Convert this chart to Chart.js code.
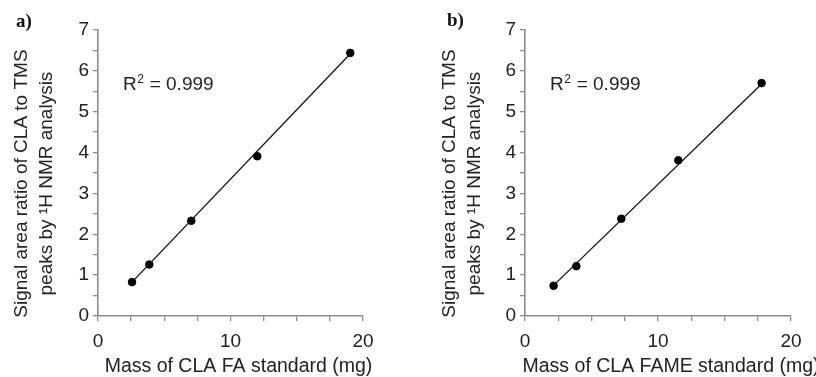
<!DOCTYPE html>
<html>
<head>
<meta charset="utf-8">
<script src="https://cdn.jsdelivr.net/npm/chart.js@4.4.1/dist/chart.umd.min.js"></script>
<style>
	body{margin:0;background:#fff;}
	.panel{position:absolute;top:0;width:408px;height:377px;}
	.tag{position:absolute;font-family:"Liberation Serif","Times New Roman",serif;font-weight:bold;font-size:19px;color:#111;}
</style>
</head>
<body>
	<div class="panel" style="left:0px;">
		<canvas id="chartA" width="408" height="377"></canvas>
	</div>
	<div class="panel" style="left:408px;">
		<canvas id="chartB" width="408" height="377"></canvas>
	</div>
	<span class="tag" style="left:16px;top:10px;">a)</span>
	<span class="tag" style="left:447px;top:9px;">b)</span>
<script>
	// panel a: CLA FA standard
	var massFA = [2.57, 3.87, 7.04, 12.02, 19.04];
	var ratioFA = [0.83, 1.26, 2.33, 3.91, 6.44];
	var fitFAx = [2.57, 19.04];
	var fitFAy = [0.83, 6.42];
	// panel b: CLA FAME standard
	var massFAME = [2.15, 3.86, 7.24, 11.53, 17.79];
	var ratioFAME = [0.74, 1.22, 2.38, 3.81, 5.70];
	var fitFAMEx = [2.15, 17.79];
	var fitFAMEy = [0.75, 5.68];
	var r2Text = ["0.999", "0.999"];
	// trailing spaces push the rotated title a little down, as in the figure
	var yTitle = ["Signal area ratio of CLA to TMS    ", "peaks by \u00b9H NMR analysis    "];
	var xTitles = ["Mass of CLA FA standard (mg)", "Mass of CLA FAME standard (mg)"];

	Chart.defaults.font.family = "'Liberation Sans', Arial, sans-serif";
	Chart.defaults.color = "#222";

	function toPoints(xs, ys){
		var pts = [];
		for(var i = 0;i<xs.length;i++){
			pts.push({x:xs[i], y:ys[i]});
		}
		return pts;
	}

	var r2Plugin = {
		id:"r2",
		afterDatasetsDraw:function(chart, args, opts){
			var ctx = chart.ctx;
			var x = chart.chartArea.left + opts.dx;
			var y = 90;
			ctx.save();
			ctx.fillStyle = "#222";
			ctx.textBaseline = "alphabetic";
			ctx.font = "19px 'Liberation Sans', Arial, sans-serif";
			ctx.fillText("R", x, y);
			var w = ctx.measureText("R").width;
			ctx.font = "12px 'Liberation Sans', Arial, sans-serif";
			ctx.fillText("2", x + w + 0.5, y - 7);
			var w2 = ctx.measureText("2").width;
			ctx.font = "19px 'Liberation Sans', Arial, sans-serif";
			ctx.fillText(" = " + opts.text, x + w + w2 + 1, y);
			ctx.restore();
		}
	};

	// x title drawn by hand so the long one in b is not squeezed to the axis width
	var xTitlePlugin = {
		id:"xTitle",
		afterDraw:function(chart, args, opts){
			var ctx = chart.ctx;
			var a = chart.chartArea;
			ctx.save();
			ctx.fillStyle = "#222";
			ctx.textAlign = "center";
			ctx.textBaseline = "alphabetic";
			ctx.font = "19.5px 'Liberation Sans', Arial, sans-serif";
			ctx.fillText(opts.text, (a.left + a.right) / 2 + opts.dx, 372);
			ctx.restore();
		}
	};

	function makeChart(id, xs, ys, fx, fy, xTitle, r2, axisLeft, rightPad, titlePad, titleDx){
		var axisColor = "#8c8c8c";
		return new Chart(document.getElementById(id), {
			type:"scatter",
			data:{
				datasets:[{
					data:toPoints(fx, fy),
					showLine:true,
					borderColor:"#111",
					borderWidth:1.3,
					pointRadius:0,
					pointHoverRadius:0
				},{
					data:toPoints(xs, ys),
					backgroundColor:"#000",
					borderColor:"#000",
					pointRadius:3.8,
					pointHoverRadius:3.8
				}]
			},
			options:{
				responsive:false,
				animation:false,
				events:[],
				layout:{padding:{left:0, right:rightPad, top:30, bottom:0}},
				plugins:{
					legend:{display:false},
					tooltip:{enabled:false},
					r2:{text:r2, dx:25},
					xTitle:{text:xTitle, dx:titleDx}
				},
				scales:{
					x:{
						type:"linear",
						min:0,
						max:20,
						border:{color:axisColor, width:1.6},
						grid:{drawOnChartArea:false, drawTicks:true, tickLength:5, color:axisColor, lineWidth:1.3},
						ticks:{
							stepSize:2.5,
							autoSkip:false,
							maxRotation:0,
							padding:9,
							font:{size:19},
							callback:function(v){ return v % 10 === 0 ? v : ""; }
						},
						afterFit:function(scale){ scale.height = 61; }
					},
					y:{
						type:"linear",
						min:0,
						max:7,
						border:{color:axisColor, width:1.6},
						grid:{drawOnChartArea:false, drawTicks:true, tickLength:5, color:axisColor, lineWidth:1.3},
						ticks:{
							stepSize:0.5,
							autoSkip:false,
							padding:4,
							font:{size:19},
							callback:function(v){ return v % 1 === 0 ? v : ""; }
						},
						title:{display:true, text:yTitle, font:{size:19, lineHeight:1.32}, padding:{top:titlePad, bottom:0}},
						afterFit:function(scale){ scale.width = axisLeft; }
					}
				}
			},
			plugins:[r2Plugin, xTitlePlugin]
		});
	}

	makeChart("chartA", massFA, ratioFA, fitFAx, fitFAy, xTitles[0], r2Text[0], 98, 45, 9, 8);
	makeChart("chartB", massFAME, ratioFAME, fitFAMEx, fitFAMEy, xTitles[1], r2Text[1], 117, 25, 29, 13);
</script>
</body>
</html>
